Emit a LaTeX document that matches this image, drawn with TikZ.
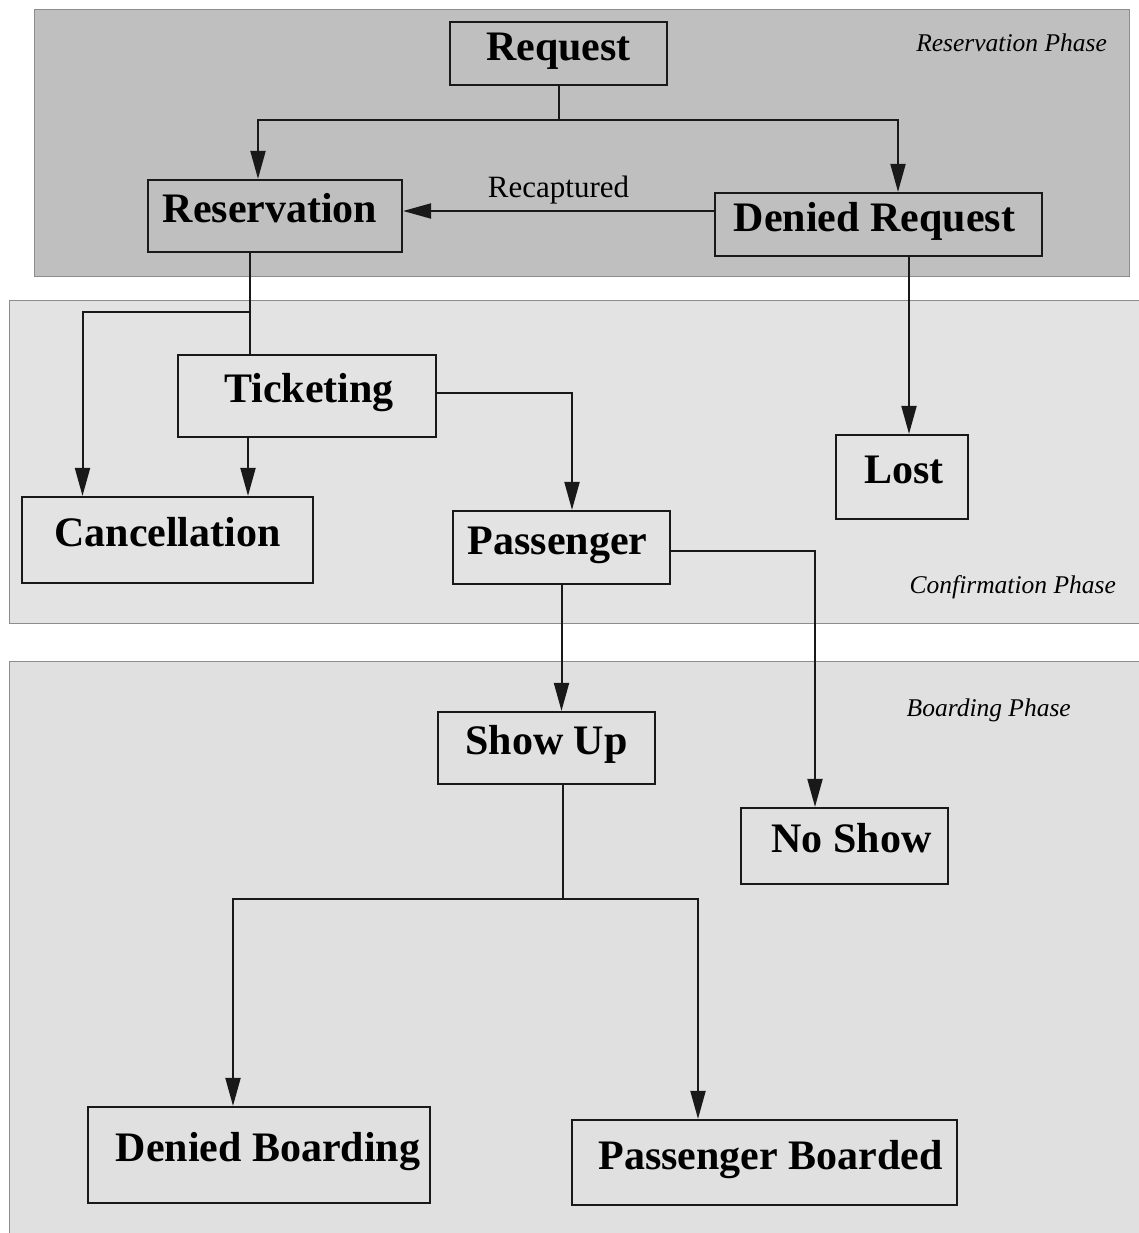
\documentclass[tikz,border=0pt]{standalone}
\usepackage{fontspec}
\setmainfont{Liberation Serif}
\usetikzlibrary{arrows.meta}
\begin{document}
\begin{tikzpicture}[x=1pt,y=-1pt,
  box/.style={draw=black!90, line width=2.2pt, inner sep=0pt,
    font=\fontsize{42}{50}\selectfont\bfseries, text height=29.4pt, text depth=15.5pt},
  arr/.style={draw=black!90, line width=2pt, -{Triangle[length=28pt,width=15pt]}},
  ln/.style={draw=black!90, line width=2pt},
  phase/.style={font=\fontsize{25.5}{30}\selectfont\itshape, inner sep=0pt},
  panel/.style={draw=black!45, line width=1pt}]
\useasboundingbox (0,0) rectangle (1139,1233);
\fill[white] (0,0) rectangle (1139,1233);
% phase panels
\path[panel, fill=black!25] (34,10) rectangle (1129,276);
\path[panel, fill=black!11] (9,300) rectangle (1145,623);
\path[panel, fill=black!12] (9,661) rectangle (1145,1240);
\node[phase, anchor=base east] (lres) at (1107,52) {Reservation Phase};
\node[phase, anchor=base east] (lconf) at (1116,593) {Confirmation Phase};
\node[phase, anchor=base east] (lboard) at (1071,716) {Boarding Phase};
% nodes
\node[box, minimum width=217pt, minimum height=63pt] (req) at (558.5,53.5) {Request};
\node[box, minimum width=254pt, minimum height=72pt] (res) at (275,216) {Reservation\hspace*{10pt}};
\node[box, minimum width=327pt, minimum height=63pt] (den) at (878.5,224.5) {Denied Request\hspace*{8pt}};
\node[box, minimum width=258pt, minimum height=82pt] (tic) at (307,396) {\hspace*{4pt}Ticketing};
\node[box, minimum width=291pt, minimum height=86pt] (can) at (167.5,540) {Cancellation};
\node[box, minimum width=217pt, minimum height=73pt] (pas) at (561.5,547.5) {Passenger\hspace*{8pt}};
\node[box, minimum width=132pt, minimum height=84pt] (lost) at (902,477) {\hspace*{4pt}Lost};
\node[box, minimum width=217pt, minimum height=72pt] (show) at (546.5,748) {Show Up};
\node[box, minimum width=207pt, minimum height=76pt] (noshow) at (844.5,846) {\hspace*{14pt}No Show};
\node[box, minimum width=342pt, minimum height=96pt] (db) at (259,1155) {\hspace*{18pt}Denied Boarding};
\node[box, minimum width=385pt, minimum height=85pt] (pb) at (764.5,1162.5) {\hspace*{12pt}Passenger Boarded};
% connectors
\coordinate (j1) at (558.5,120);
\draw[ln] (req.south) -- (j1);
\draw[arr] (j1) -| ([xshift=-17pt]res.north);
\draw[arr] (j1) -| ([xshift=19.5pt]den.north);
\draw[arr] ([yshift=13.5pt]den.west) -- ([yshift=13.5pt]den.west -| res.east)
  node[pos=0.5, above=6pt, font=\fontsize{31}{36}\selectfont, inner sep=0pt] (lrec) {Recaptured};
\coordinate (j3) at (250,312);
\draw[ln] ([xshift=-25pt]res.south) -- ([xshift=-25pt]res.south |- tic.north);
\draw[arr] (j3) -| ([xshift=-85pt]can.north);
\draw[arr] ([xshift=-59pt]tic.south) -- ([xshift=-59pt]tic.south |- can.north);
\draw[arr] ([yshift=3pt]tic.east) -| ([xshift=10.5pt]pas.north);
\draw[arr] ([xshift=30.5pt]den.south) -- ([xshift=30.5pt]den.south |- lost.north);
\draw[arr] (pas.south) -- (pas.south |- show.north);
\draw[arr] ([yshift=-3.5pt]pas.east) -| ([xshift=-29.5pt]noshow.north);
\coordinate (j9) at (563,899);
\draw[ln] ([xshift=16.5pt]show.south) -- (j9);
\draw[arr] (j9) -| ([xshift=-26pt]db.north);
\draw[arr] (j9) -| ([xshift=-66.5pt]pb.north);
\end{tikzpicture}
\end{document}
